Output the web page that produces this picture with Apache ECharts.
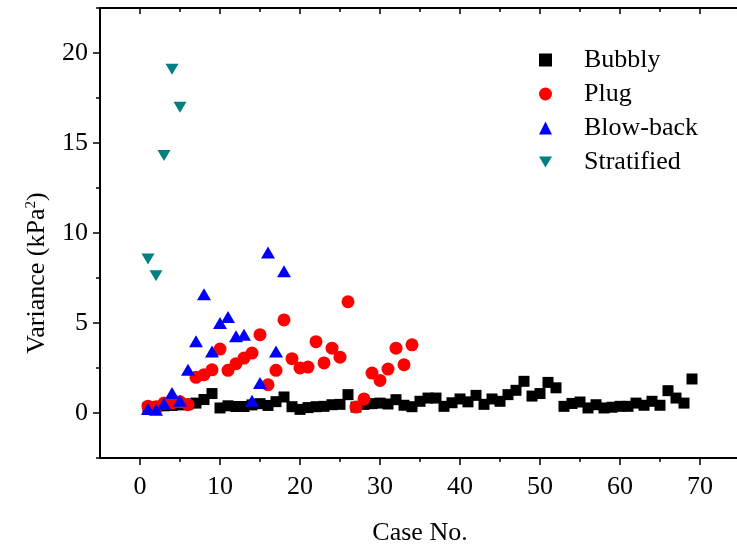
<!DOCTYPE html>
<html>
<head>
<meta charset="utf-8">
<script src="https://cdn.jsdelivr.net/npm/echarts@6/dist/echarts.min.js"></script>
<style>
html, body { margin: 0; padding: 0; background: #fff; }
#chart { width: 737px; height: 548px; }
</style>
</head>
<body>
<div id="chart"></div>
<script>
// values per case number (case = index + 1)
var bubbly = [0.30, 0.35, 0.40, 0.42, 0.45, 0.50, 0.55, 0.75, 1.08, 0.28,
	0.40, 0.36, 0.36, 0.45, 0.52, 0.42, 0.63, 0.89, 0.35, 0.20,
	0.30, 0.35, 0.37, 0.46, 0.48, 1.02, 0.33, 0.48, 0.52, 0.55,
	0.50, 0.74, 0.43, 0.35, 0.65, 0.83, 0.83, 0.37, 0.57, 0.78,
	0.62, 0.98, 0.48, 0.78, 0.65, 1.02, 1.26, 1.76, 0.94, 1.08,
	1.70, 1.40, 0.37, 0.53, 0.61, 0.28, 0.46, 0.28, 0.32, 0.37,
	0.37, 0.55, 0.43, 0.65, 0.43, 1.24, 0.83, 0.55, 1.89];
var plug = [0.38, 0.35, 0.55, 0.55, 0.62, 0.46, 1.98, 2.13, 2.40, 3.55,
	2.37, 2.74, 3.05, 3.33, 4.35, 1.57, 2.37, 5.17, 3.02, 2.50,
	2.55, 3.96, 2.78, 3.60, 3.10, 6.18, 0.33, 0.78, 2.22, 1.81,
	2.44, 3.60, 2.68, 3.79];
var blowBack = [0.22, 0.18, 0.52, 1.11, 0.68, 2.40, 3.98, 6.60, 3.42, 5.00,
	5.33, 4.26, 4.35, 0.68, 1.67, 8.92, 3.42, 7.87];
var stratified = [8.55, 7.63, 14.30, 19.10, 16.98];

var xMajor = [0, 10, 20, 30, 40, 50, 60, 70];
var xMinor = [5, 15, 25, 35, 45, 55, 65];
var yMajor = [0, 5, 10, 15, 20];
var yMinor = [-2.5, 2.5, 7.5, 12.5, 17.5, 22.5];

function pts(arr) {
	return arr.map(function (v, i) { return [i + 1, v]; });
}

var FONT = "'Liberation Serif', 'DejaVu Serif', serif";
var XMIN = -5, XMAX = 75, YMIN = -2.5, YMAX = 22.5;

function xAx(grid, pos, ticks, len, inside, line, label) {
	return {
		type: 'value', gridIndex: grid, position: pos, min: XMIN, max: XMAX,
		axisLine: { show: line, onZero: false, lineStyle: { color: '#000', width: 2 } },
		axisTick: { show: true, inside: inside, length: len, customValues: ticks, lineStyle: { color: '#000', width: 1.5 } },
		axisLabel: label ? { customValues: ticks, color: '#000', fontSize: 26, fontFamily: FONT, margin: 16 } : { show: false },
		splitLine: { show: false }
	};
}
function yAx(grid, ticks, len, line, label) {
	return {
		type: 'value', gridIndex: grid, position: 'left', min: YMIN, max: YMAX,
		axisLine: { show: line, onZero: false, lineStyle: { color: '#000', width: 2 } },
		axisTick: { show: true, length: len, customValues: ticks, lineStyle: { color: '#000', width: 1.5 } },
		axisLabel: label ? { customValues: ticks, color: '#000', fontSize: 26, fontFamily: FONT, margin: 12 } : { show: false },
		splitLine: { show: false }
	};
}

var xBottom = xAx(0, 'bottom', xMajor, 7, false, true, true);
xBottom.name = 'Case No.';
xBottom.nameLocation = 'middle';
xBottom.nameGap = 62;
xBottom.nameTextStyle = { color: '#000', fontSize: 26, fontFamily: FONT };

var yLeft = yAx(0, yMajor, 7, true, true);
yLeft.name = 'Variance (kPa{sup|2})';
yLeft.nameLocation = 'middle';
yLeft.nameGap = 50;
yLeft.nameTextStyle = {
	color: '#000', fontSize: 26, fontFamily: FONT,
	padding: [0, 80, 0, 0],
	rich: { sup: { fontSize: 15, fontFamily: FONT, color: '#000', verticalAlign: 'top', padding: [0, 0, 10, 0] } }
};

var chart = echarts.init(document.getElementById('chart'));
chart.setOption({
	animation: false,
	backgroundColor: '#fff',
	grid: [
		{ left: 100, top: 8, width: 640, height: 450, outerBoundsMode: 'none', containLabel: false },
		{ left: 100, top: 8, width: 640, height: 450, outerBoundsMode: 'none', containLabel: false }
	],
	xAxis: [
		xBottom,
		xAx(0, 'top', xMajor, 6, true, true, false),
		xAx(1, 'bottom', xMinor, 4, false, false, false),
		xAx(1, 'top', xMinor, 4, true, false, false)
	],
	yAxis: [
		yLeft,
		yAx(1, yMinor, 4, false, false)
	],
	legend: {
		orient: 'vertical', left: 534, top: 42,
		itemWidth: 13, itemHeight: 13, itemGap: 8,
		selectedMode: false,
		formatter: function (name) { return '{g|}' + name; },
		textStyle: { color: '#000', fontSize: 26, fontFamily: FONT, rich: { g: { width: 27 } } },
		data: ['Bubbly', 'Plug', 'Blow-back', { name: 'Stratified', icon: 'path://M0,0L14,0L7,12Z' }]
	},
	series: [
		{ name: 'Bubbly', type: 'scatter', symbol: 'rect', symbolSize: 11, itemStyle: { color: '#000000', opacity: 1 }, data: pts(bubbly) },
		{ name: 'Plug', type: 'scatter', symbol: 'circle', symbolSize: 13, itemStyle: { color: '#ff0000', opacity: 1 }, data: pts(plug) },
		{ name: 'Blow-back', type: 'scatter', symbol: 'triangle', symbolSize: [14, 12], itemStyle: { color: '#0000ff', opacity: 1 }, data: pts(blowBack) },
		{ name: 'Stratified', type: 'scatter', symbol: 'triangle', symbolRotate: 180, symbolSize: [13, 11], itemStyle: { color: '#008080', opacity: 1 }, data: pts(stratified) }
	]
});
</script>
</body>
</html>
